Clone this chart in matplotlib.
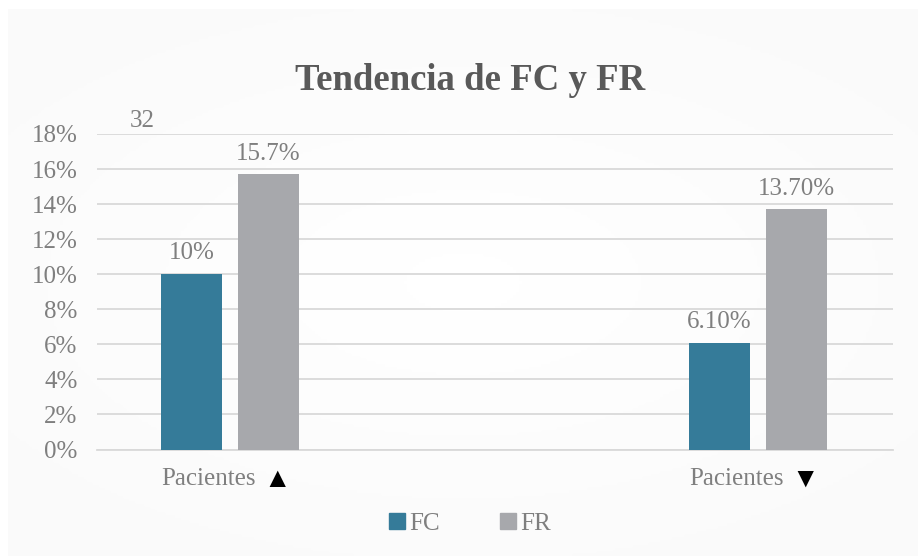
import numpy as np
import matplotlib.pyplot as plt
from matplotlib.patches import Patch
from matplotlib.ticker import PercentFormatter

# Data
categories = ["Pacientes", "Pacientes"]
arrows = ["\u25B2", "\u25BC"]
fc_values = [0.10, 0.061]
fr_values = [0.157, 0.137]
fc_labels = ["10%", "6.10%"]
fr_labels = ["15.7%", "13.70%"]
group_pos = [0.334, 1.661]

fc_color = "#357B99"
fr_color = "#A7A8AC"
text_gray = "#7F7F7F"
fonts = ["Liberation Serif", "DejaVu Sans"]

plt.rcParams["font.family"] = fonts

fig = plt.figure(figsize=(9.18, 5.56), dpi=100, facecolor="white")

# soft background panel (light gray at edges, whiter in the middle)
bg = fig.add_axes([8 / 918, 0, 910 / 918, 547 / 556], zorder=-10)
yy, xx = np.mgrid[-1:1:200j, -1:1:300j]
shade = np.clip(np.sqrt(xx ** 2 * 0.6 + yy ** 2 * 0.8), 0, 1)
bg.imshow(shade, cmap="Greys", vmin=0, vmax=26, aspect="auto")
bg.axis("off")

ax = fig.add_axes([97 / 918, 1 - 449.5 / 556, 796 / 918, 315.5 / 556])
ax.set_facecolor("none")

width = 0.152
offset = 0.097
fc_x = [p - offset for p in group_pos]
fr_x = [p + offset for p in group_pos]

bars_fc = ax.bar(fc_x, fc_values, width=width, color=fc_color, zorder=3)
bars_fr = ax.bar(fr_x, fr_values, width=width, color=fr_color, zorder=3)

for bars, labels in [(bars_fc, fc_labels), (bars_fr, fr_labels)]:
    for b, lab in zip(bars, labels):
        ax.annotate(lab, (b.get_x() + b.get_width() / 2, b.get_height()),
                    xytext=(0, 7), textcoords="offset points",
                    ha="center", va="bottom", fontsize=18, color=text_gray)

ax.set_xlim(0, 2)
ax.set_ylim(0, 0.18)
ax.set_yticks([i / 100 for i in range(0, 19, 2)])
ax.yaxis.set_major_formatter(PercentFormatter(1.0, decimals=0))
ax.tick_params(axis="y", length=0, labelsize=18, labelcolor=text_gray, pad=14)
ax.grid(axis="y", color="#D9D9D9", linewidth=1.3, zorder=0)

ax.set_xticks([])
for p, cat, arr in zip(group_pos, categories, arrows):
    ax.annotate(cat, (p - 0.055, 0), xytext=(0, -13), textcoords="offset points",
                ha="center", va="top", fontsize=18, color=text_gray)
    ax.annotate(arr, (p + 0.119, 0), xytext=(0, -13), textcoords="offset points",
                ha="center", va="top", fontsize=20, color="black")

for s in ["top", "right", "left"]:
    ax.spines[s].set_visible(False)
ax.spines["bottom"].set_color("#D9D9D9")
ax.spines["bottom"].set_linewidth(1.3)

fig.text(0.512, 0.855, "Tendencia de FC y FR", ha="center", va="center",
         fontsize=26.5, fontweight="bold", color="#595959")
fig.text(0.1547, 0.783, "32", ha="center", va="center", fontsize=18, color=text_gray)

handles = [Patch(color=fc_color, label="FC"), Patch(color=fr_color, label="FR")]
fig.legend(handles=handles, loc="center", bbox_to_anchor=(0.512, 0.058), ncol=2,
           frameon=False, fontsize=18, labelcolor=text_gray, handlelength=0.64,
           handleheight=0.64, handletextpad=0.16, columnspacing=2.4)

fig.savefig("out.png", dpi=100, facecolor=fig.get_facecolor())
